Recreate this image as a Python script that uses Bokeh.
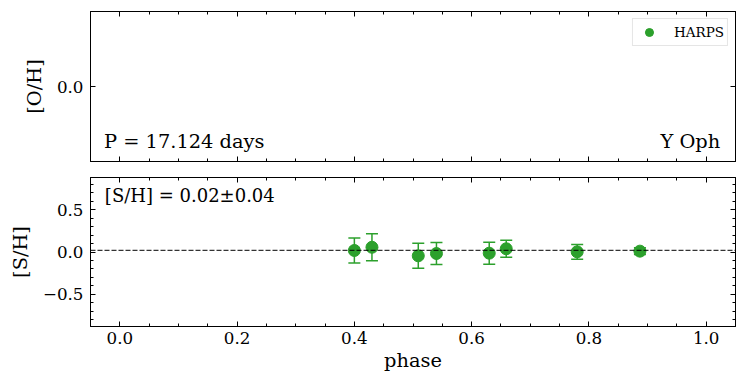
import numpy as np
from bokeh.plotting import figure
from bokeh.layouts import column
from bokeh.models import (Range1d, LinearAxis, FixedTicker, Whisker, ColumnDataSource,
                          Span, Label, Legend, LegendItem, TeeHead)
from bokeh.embed import file_html
from bokeh.resources import INLINE

# ---- data ----
star = "Y Oph"
period = 17.124
instrument = "HARPS"
phase = [0.400, 0.430, 0.509, 0.540, 0.630, 0.659, 0.780, 0.887]
sh = [0.018, 0.056, -0.045, -0.018, -0.014, 0.038, 0.002, 0.010]
sh_err = [0.147, 0.160, 0.147, 0.130, 0.130, 0.100, 0.088, 0.040]
sh_mean = 0.02
sh_std = 0.04
oh = [float("nan")] * len(phase)   # no [O/H] measurements

xticks = [0.0, 0.2, 0.4, 0.6, 0.8, 1.0]
xtick_labels = ["0.0", "0.2", "0.4", "0.6", "0.8", "1.0"]
xminor = [round(-0.05 + 0.05 * i, 2) for i in range(23)]
sh_ticks = [-0.5, 0.0, 0.5]
sh_tick_labels = ["\u22120.5", "0.0", "0.5"]
sh_minor = [round(-0.8 + 0.1 * i, 1) for i in range(17)]
oh_ticks = [0.0]
oh_tick_labels = ["0.0"]

GREEN = "#2ca02c"
FONT = "DejaVu Serif"
TICK_FS = "16.7px"
LAB_FS = "19.4px"


def style_axis(ax, labels=None, show=True):
    ax.major_tick_in = 5
    ax.major_tick_out = 0
    ax.minor_tick_in = 3
    ax.minor_tick_out = 0
    ax.axis_line_color = "black"
    ax.major_tick_line_color = "black"
    ax.minor_tick_line_color = "black"
    ax.major_label_text_font = FONT
    ax.major_label_text_color = "black"
    ax.axis_label_text_font = FONT
    ax.axis_label_text_font_style = "normal"
    ax.axis_label_text_font_size = LAB_FS
    ax.axis_label_text_color = "black"
    if show:
        ax.major_label_text_font_size = TICK_FS
        if labels is not None:
            ax.major_label_overrides = labels
    else:
        ax.major_label_text_font_size = "0px"
        ax.major_label_standoff = 0


def setup(p, xt, yt, xlabels, ylabels, show_x):
    p.xgrid.visible = False
    p.ygrid.visible = False
    p.outline_line_color = "black"
    p.background_fill_color = "white"
    p.border_fill_color = "white"
    bx = p.xaxis[0]
    bx.ticker = xt
    style_axis(bx, xlabels, show_x)
    bx.major_label_standoff = 5 if show_x else 0
    ly = p.yaxis[0]
    ly.ticker = yt
    style_axis(ly, ylabels, True)
    ly.major_label_standoff = 7
    ly.axis_label_standoff = 8
    ax_top = LinearAxis(ticker=xt)
    style_axis(ax_top, show=False)
    p.add_layout(ax_top, "above")
    ax_right = LinearAxis(ticker=yt)
    style_axis(ax_right, show=False)
    p.add_layout(ax_right, "right")
    return bx, ly


xlab = {t: l for t, l in zip(xticks, xtick_labels)}

# ---- top panel ----
p1 = figure(width=742, height=169, x_range=Range1d(-0.05, 1.05), y_range=Range1d(-1, 1),
            output_backend="svg", toolbar_location=None,
            min_border_left=90, min_border_right=7, min_border_top=11, min_border_bottom=8)
bx1, ly1 = setup(p1, FixedTicker(ticks=xticks, minor_ticks=xminor),
                 FixedTicker(ticks=oh_ticks, minor_ticks=[]),
                 xlab, {t: l for t, l in zip(oh_ticks, oh_tick_labels)}, False)
ly1.axis_label = "[O/H]"

src_oh = ColumnDataSource(dict(x=phase, y=oh))
r_bar = p1.scatter("x", "y", source=src_oh, marker="dash", angle=np.pi / 2, size=18,
                   line_color=GREEN, line_width=2)
r_pt = p1.scatter("x", "y", source=src_oh, marker="circle", size=11,
                  fill_color=GREEN, line_color=GREEN)
legend = Legend(items=[LegendItem(label=instrument, renderers=[r_bar, r_pt])],
                location="top_right", label_text_font=FONT, label_text_font_size="13.5px",
                label_text_color="black",
                border_line_color="#cccccc", border_line_width=1, margin=7,
                padding=3, spacing=0, glyph_width=26, glyph_height=20,
                label_standoff=12, background_fill_alpha=0.8)
p1.add_layout(legend)

p1.add_layout(Label(x=-0.027, y=-0.73, text=f"P = {period:.3f} days", text_font=FONT,
                    text_font_size=LAB_FS, text_color="black",
                    text_baseline="middle", text_align="left"))
p1.add_layout(Label(x=1.024, y=-0.73, text=star, text_font=FONT,
                    text_font_size=LAB_FS, text_color="black",
                    text_baseline="middle", text_align="right"))

# ---- bottom panel ----
p2 = figure(width=742, height=207, x_range=p1.x_range, y_range=Range1d(-0.88, 0.88),
            output_backend="svg", toolbar_location=None,
            min_border_left=90, min_border_right=7, min_border_top=8, min_border_bottom=50)
bx2, ly2 = setup(p2, FixedTicker(ticks=xticks, minor_ticks=xminor),
                 FixedTicker(ticks=sh_ticks, minor_ticks=sh_minor),
                 xlab, {t: l for t, l in zip(sh_ticks, sh_tick_labels)}, True)
ly2.axis_label = "[S/H]"
bx2.axis_label = "phase"
bx2.axis_label_standoff = 2

p2.add_layout(Span(location=sh_mean, dimension="width", line_color="black",
                   line_width=1, line_dash="5 2"))

src = ColumnDataSource(dict(x=phase, y=sh,
                            lo=[v - e for v, e in zip(sh, sh_err)],
                            hi=[v + e for v, e in zip(sh, sh_err)]))
p2.add_layout(Whisker(base="x", lower="lo", upper="hi", source=src, line_color=GREEN,
                      line_width=1.5,
                      lower_head=TeeHead(size=12, line_color=GREEN, line_width=1.5),
                      upper_head=TeeHead(size=12, line_color=GREEN, line_width=1.5)))
p2.scatter("x", "y", source=src, marker="circle", size=12, fill_color=GREEN, line_color=GREEN)

p2.add_layout(Label(x=-0.0255, y=0.665, text=f"[S/H] = {sh_mean:.2f}\u00b1{sh_std:.2f}",
                    text_font=FONT, text_font_size="18px", text_color="black",
                    text_baseline="middle", text_align="left"))

layout = column(p1, p2, spacing=0)
open("out.html", "w").write(file_html(layout, INLINE))
